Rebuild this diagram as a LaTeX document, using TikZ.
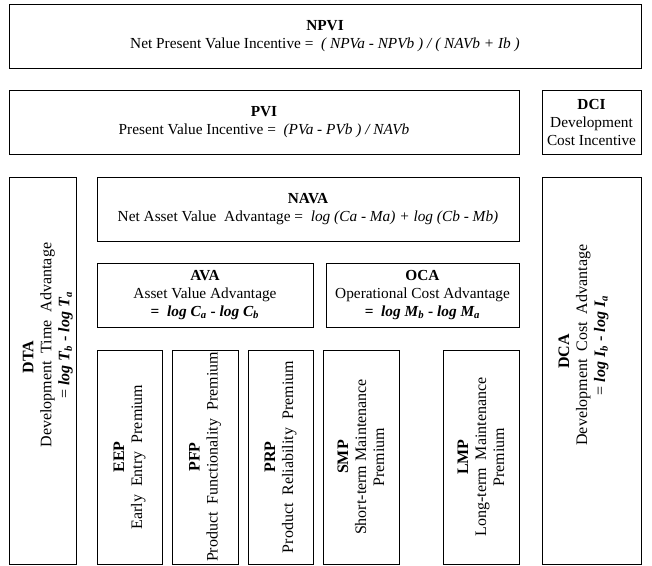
\documentclass[tikz,border=0pt]{standalone}
\usepackage{fontspec}
\setmainfont{Liberation Serif}
\usetikzlibrary{fit, positioning}
\tikzstyle{box} = [draw, line width=0.6pt, rectangle, inner sep=0pt]
\tikzstyle{flat} = [align=center, inner sep=0pt, font=\fontsize{11.5}{13.5}\selectfont]
\tikzstyle{sideways} = [rotate=90, align=center, inner sep=0pt, font=\fontsize{12}{13.5}\selectfont]
\newcommand*{\bsub}[2]{\textbf{\textit{#1\textsubscript{#2}}}}

\begin{document}
\begin{tikzpicture}[x=0.75pt, y=-0.75pt]
    \useasboundingbox (0,0) rectangle (652,565);

    % Incentive boxes.
    \node (npvi) [box, fit={(9,4) (641,68)}] {};
    \node (pvi) [box, fit={(9,90) (519,154)}] {};
    \node (dci) [box, fit={(542,90) (641,154)}] {};

    \node (npvi text) [flat] at (npvi.center) {\textbf{NPVI}\\Net Present Value Incentive = \ \textit{( NPVa - NPVb ) / ( NAVb + Ib )}};
    \node (pvi text) [flat] at (pvi.center) {\textbf{PVI}\\Present Value Incentive = \ \textit{(PVa - PVb ) / NAVb}};
    \node (dci text) [flat] at (dci.center) {\textbf{DCI}\\Development\\Cost Incentive};

    % Advantage boxes.
    \node (nava) [box, fit={(97,177) (519,241)}] {};
    \node (ava) [box, fit={(97,263) (313,327)}] {};
    \node (oca) [box, fit={(326,263) (519,327)}] {};

    \node (nava text) [flat] at (nava.center) {\textbf{NAVA}\\Net Asset Value \ Advantage = \ \textit{log (Ca - Ma) + log (Cb - Mb)}};
    \node (ava text) [flat] at (ava.center) {\textbf{AVA}\\Asset Value Advantage\\\textbf{= \ \bsub{log C}{a} - \bsub{log C}{b}}};
    \node (oca text) [flat] at (oca.center) {\textbf{OCA}\\Operational Cost Advantage\\\textbf{= \ \bsub{log M}{b} - \bsub{log M}{a}}};

    % Side columns.
    \node (dta) [box, fit={(9,177) (76,564)}] {};
    \node (dca) [box, fit={(542,177) (641,564)}] {};
    \node (dta text) [sideways] at ([xshift=4pt, yshift=19pt] dta.center) {\textbf{DTA}\hspace*{1.5em}\\Development \ Time \ Advantage\\= \bsub{log T}{b} \textbf{-} \bsub{log T}{a}};
    \node (dca text) [sideways] at ([xshift=-6pt, yshift=19pt] dca.center) {\textbf{DCA}\hspace*{0.8em}\\Development \ Cost \ Advantage\\= \bsub{log I}{b} \textbf{-} \bsub{log I}{a}};

    % Premium columns.
    \foreach \name/\left/\right/\words in {%
        eep/97/162/{\textbf{EEP}\\Early \ Entry \ Premium},
        pfp/172/238/{\textbf{PFP}\\Product \ Functionality \ Premium},
        prp/248/313/{\textbf{PRP}\\Product \ Reliability \ Premium},
        smp/323/399/{\textbf{SMP}\\Short-term Maintenance\\Premium},
        lmp/443/519/{\textbf{LMP}\\Long-term \ Maintenance\\Premium}} {%
        \node (\name) [box, fit={(\left,350) (\right,564)}] {};
        \node (\name\space text) [sideways] at (\name.center) {\words};
    }
\end{tikzpicture}
\end{document}
